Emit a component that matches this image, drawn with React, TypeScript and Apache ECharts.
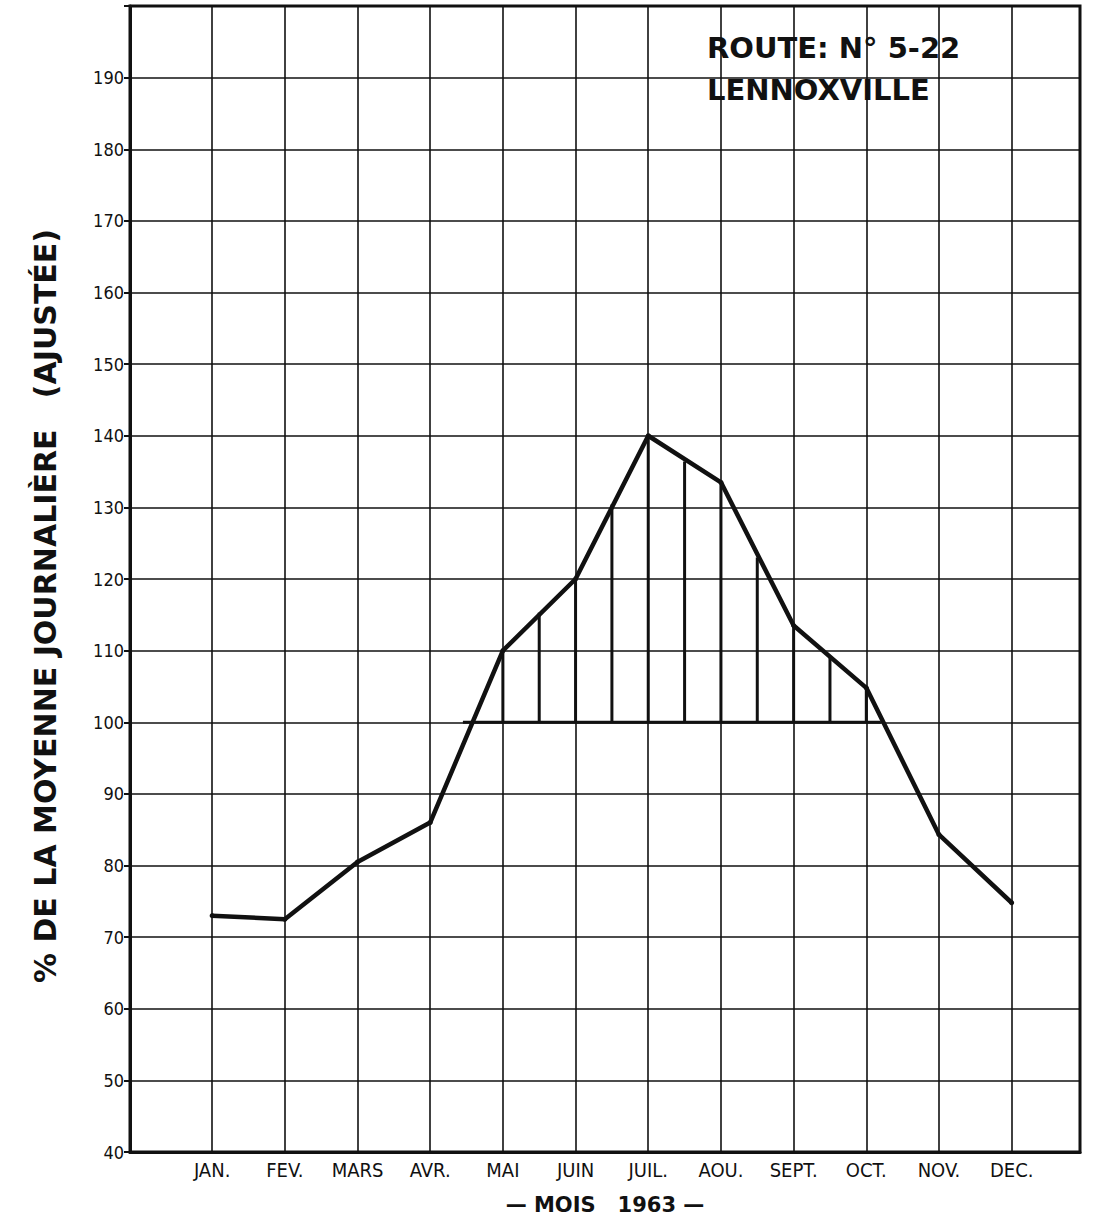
import React, { useEffect, useRef } from 'react';
import * as echarts from 'echarts';

const months = ['JAN.', 'FEV.', 'MARS', 'AVR.', 'MAI', 'JUIN', 'JUIL.', 'AOU.', 'SEPT.', 'OCT.', 'NOV.', 'DEC.'];
const monthPos = [1, 2, 3, 4, 5, 6, 7, 8, 9, 10, 11, 12];
const values = [73, 72.5, 80.5, 86, 110, 120, 140, 133.5, 113.5, 104.8, 84.3, 74.8];
const hatchPos = [5, 5.5, 6, 6.5, 7, 7.5, 8, 8.5, 9, 9.5, 10];
const hatchTop = [110, 115.3, 120, 130.4, 140, 136.4, 133.5, 123, 113.5, 109.1, 104.8];
const baseLevel = 100;
const baseSpan = [4.45, 10.2];
const yMin = 40;
const yMax = 200;
const yStep = 10;

const FONT = "'Liberation Sans Narrow', 'DejaVu Sans Condensed', 'Liberation Sans', sans-serif";
const FONT_BOLD = "'DejaVu Sans', 'Liberation Sans', sans-serif";
const INK = '#111';

export default function App() {
  const ref = useRef<HTMLDivElement>(null);
  useEffect(() => {
    document.body.style.margin = '0';
    const chart = echarts.init(ref.current!, null, { renderer: 'svg' });
    const option: any = {
      animation: false,
      backgroundColor: '#fff',
      grid: {
        left: 130,
        right: 18,
        top: 6,
        bottom: 69,
        show: true,
        borderColor: INK,
        borderWidth: 3,
      },
      xAxis: {
        type: 'value',
        min: -0.13,
        max: 12.94,
        axisLine: { show: true, onZero: false, lineStyle: { color: INK, width: 3 } },
        axisTick: { show: false, customValues: monthPos },
        axisLabel: {
          customValues: monthPos,
          formatter: (v: number) => months[monthPos.indexOf(v)] ?? '',
          color: INK,
          fontFamily: FONT,
          fontSize: 20,
          margin: 8,
        },
        splitLine: { show: false },
        name: '— MOIS   1963 —',
        nameLocation: 'middle',
        nameGap: 42,
        nameTextStyle: { color: INK, fontFamily: FONT_BOLD, fontWeight: 'bold', fontSize: 21 },
      },
      yAxis: {
        type: 'value',
        min: yMin,
        max: yMax,
        interval: yStep,
        axisLine: { show: true, onZero: false, lineStyle: { color: INK, width: 3 } },
        axisTick: { show: true, length: 6, lineStyle: { color: INK, width: 2 } },
        axisLabel: {
          color: INK,
          fontFamily: FONT,
          fontSize: 18,
          margin: 6,
          formatter: (v: number) => (v === yMax ? '' : String(v)),
        },
        splitLine: { show: true, lineStyle: { color: INK, width: 1.6 } },
      },
      graphic: [
        {
          type: 'text',
          x: 45,
          y: 606,
          rotation: Math.PI / 2,
          style: {
            text: '% DE LA MOYENNE JOURNALIÈRE   (AJUSTÉE)',
            fontFamily: FONT_BOLD,
            fontWeight: 'bold',
            fontSize: 30,
            fill: INK,
            align: 'center',
            verticalAlign: 'middle',
          },
        },
        {
          type: 'text',
          x: 707,
          y: 48,
          style: {
            text: 'ROUTE: N° 5-22',
            fontFamily: FONT_BOLD,
            fontWeight: 'bold',
            fontSize: 29,
            fill: INK,
            align: 'left',
            verticalAlign: 'middle',
          },
        },
        {
          type: 'text',
          x: 707,
          y: 90,
          style: {
            text: 'LENNOXVILLE',
            fontFamily: FONT_BOLD,
            fontWeight: 'bold',
            fontSize: 29,
            fill: INK,
            align: 'left',
            verticalAlign: 'middle',
          },
        },
      ],
      series: [
        {
          type: 'custom',
          data: hatchPos.map((x, i) => [x, hatchTop[i]]),
          renderItem: (params: any, api: any) => {
            const x = api.value(0);
            const top = api.value(1);
            const p1 = api.coord([x, baseLevel]);
            const p2 = api.coord([x, top]);
            return {
              type: 'line',
              shape: { x1: p1[0], y1: p1[1], x2: p2[0], y2: p2[1] },
              style: { stroke: INK, lineWidth: 3 },
            };
          },
          z: 3,
        },
        {
          type: 'line',
          data: baseSpan.map((x) => [x, baseLevel]),
          symbol: 'none',
          lineStyle: { color: INK, width: 3 },
          z: 3,
          markLine: {
            silent: true,
            symbol: 'none',
            label: { show: false },
            lineStyle: { color: INK, width: 1.6, type: 'solid' },
            data: monthPos.map((x) => ({ xAxis: x })),
          },
        },
        {
          type: 'line',
          data: monthPos.map((x, i) => [x, values[i]]),
          symbol: 'circle',
          symbolSize: 5,
          itemStyle: { color: INK },
          lineStyle: { color: INK, width: 4.5 },
          z: 4,
        },
      ],
    };
    chart.setOption(option);
    return () => chart.dispose();
  }, []);
  return (
    <div
      ref={ref}
      style={{ position: 'absolute', left: 0, top: 0, width: 1098, height: 1221, background: '#fff' }}
    />
  );
}
